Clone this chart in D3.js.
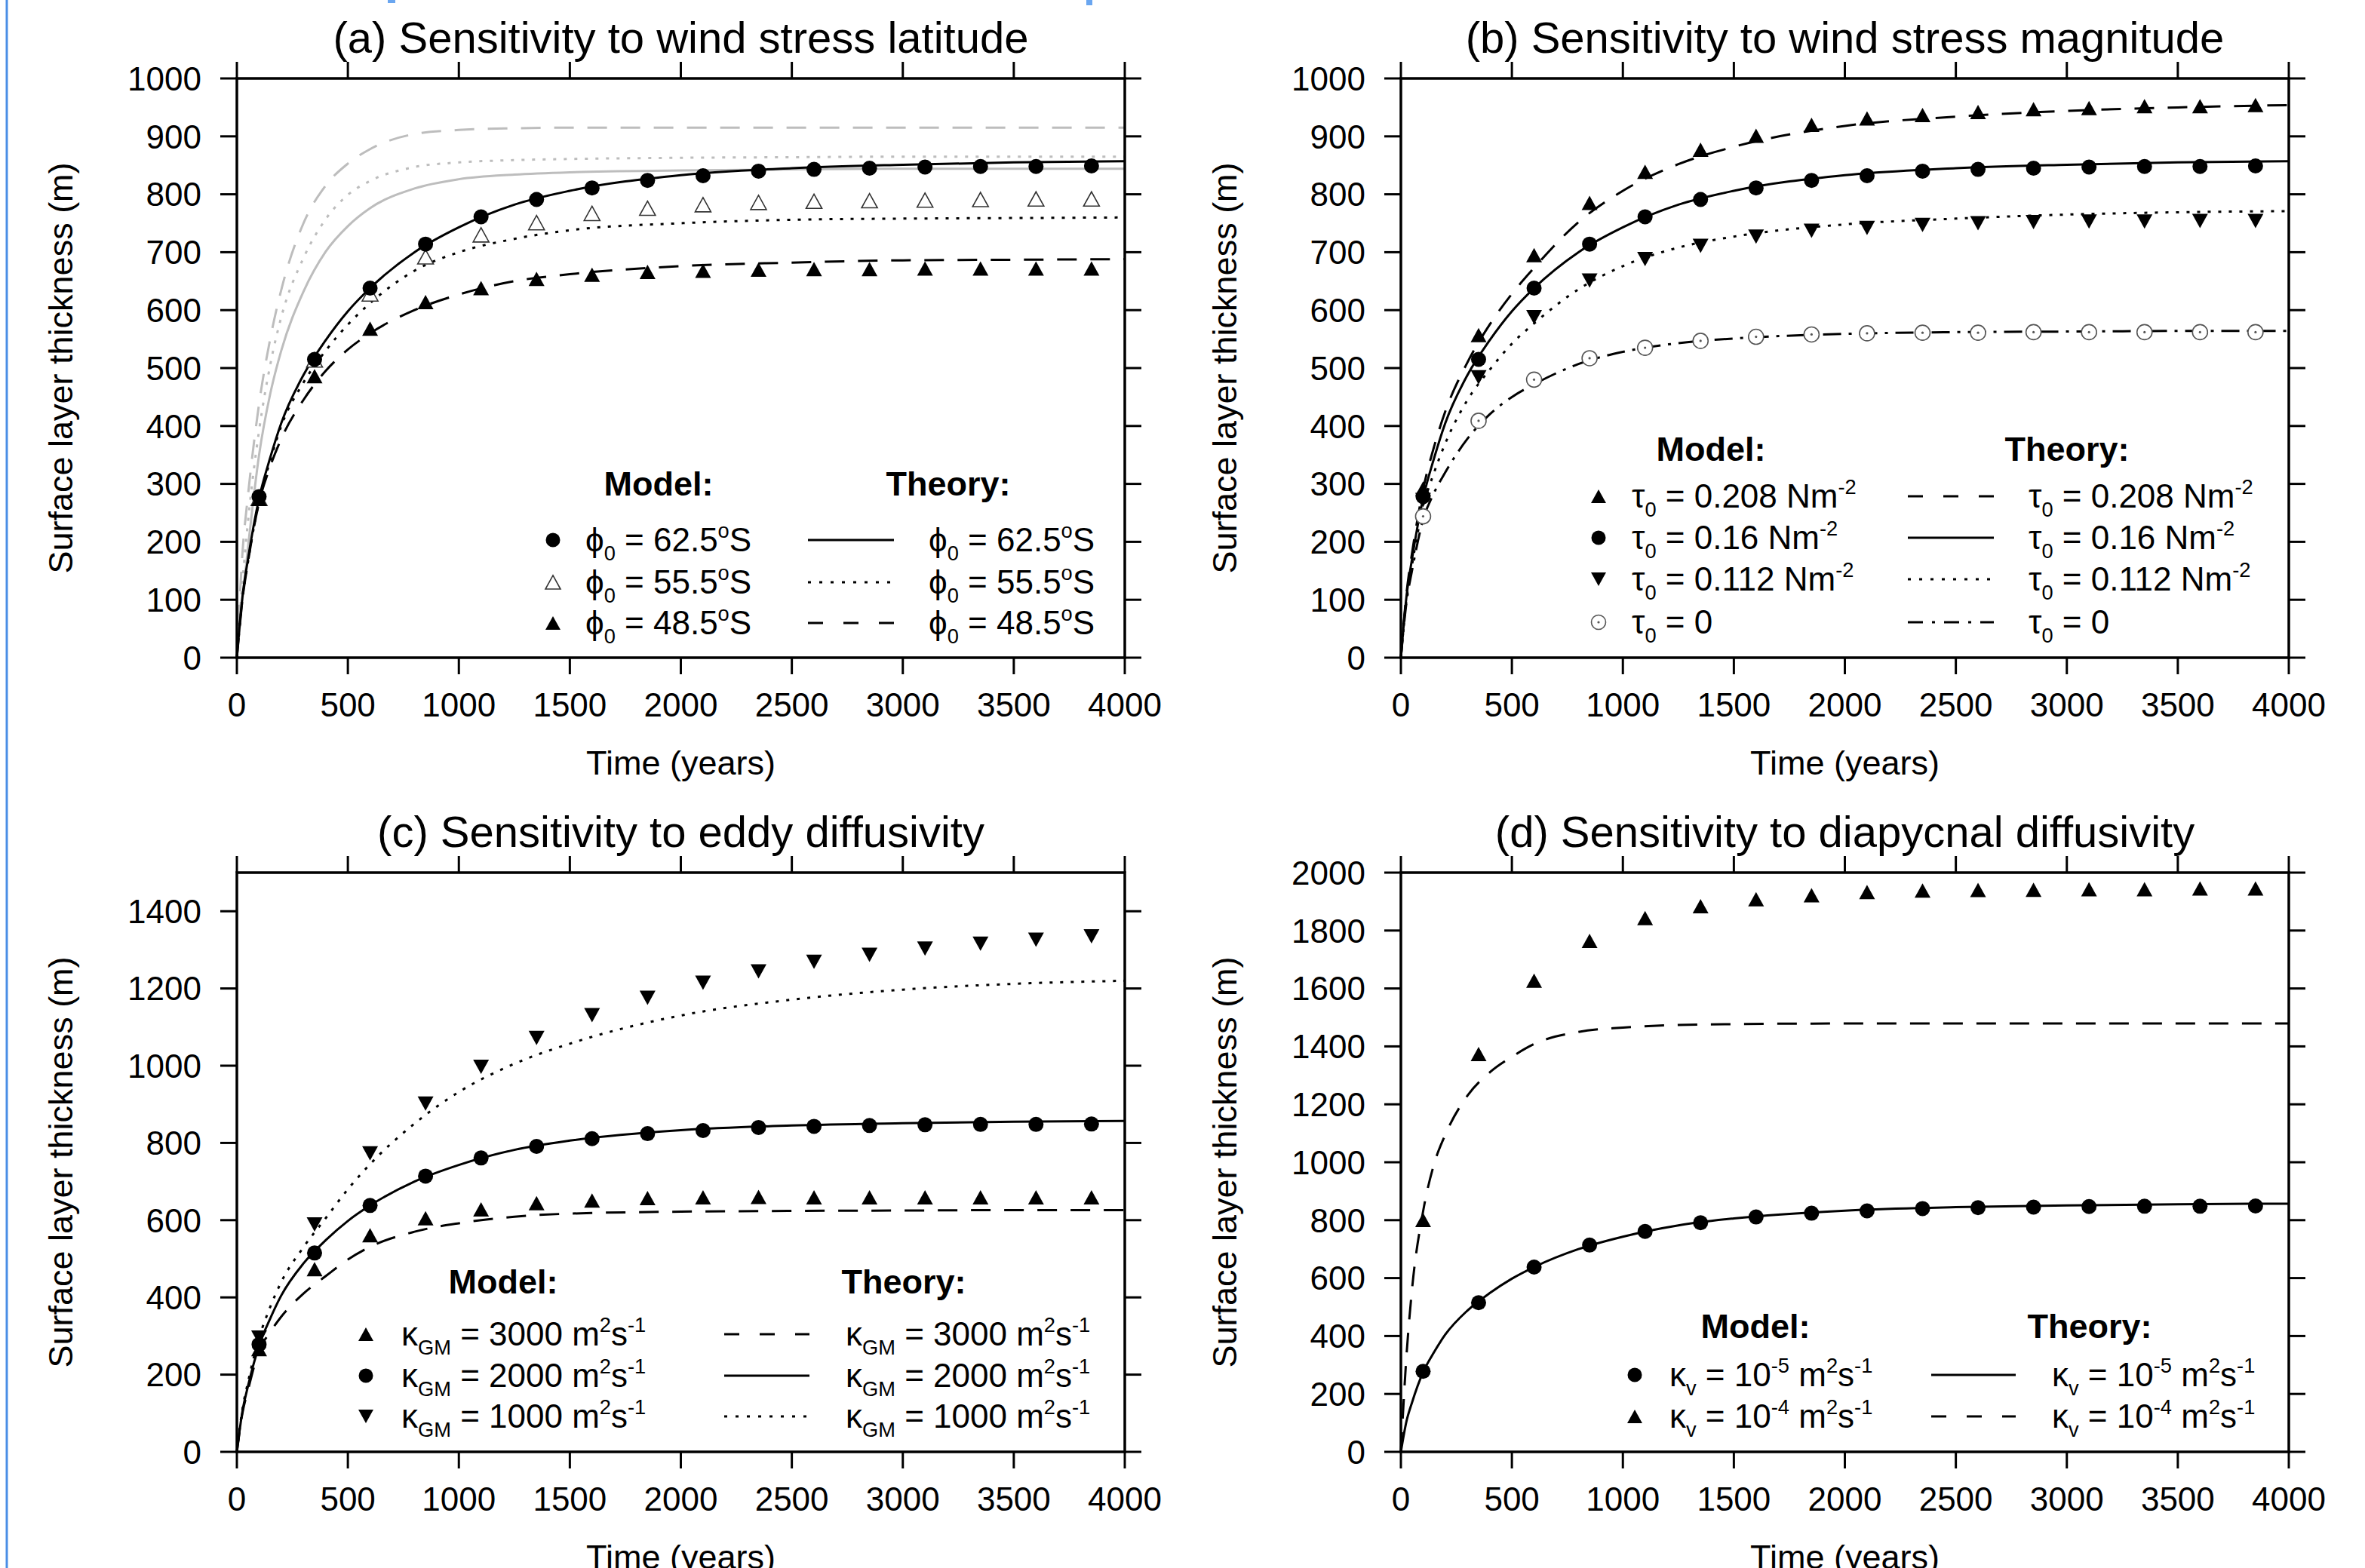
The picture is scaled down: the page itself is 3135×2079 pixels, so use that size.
<!DOCTYPE html>
<html>
<head>
<meta charset="utf-8">
<script src="https://cdn.jsdelivr.net/npm/d3@7"></script>
<style>
  body { margin: 0; background: #fff; }
  svg { display: block; font-family: "Liberation Sans", Arial, Helvetica, sans-serif; }
</style>
</head>
<body>
<script>
var WIDTH = 3135;
var HEIGHT = 2079;

// ---- data ----
var modelTime = [100, 350, 600, 850, 1100, 1350, 1600, 1850, 2100, 2350, 2600, 2850, 3100, 3350, 3600, 3850];
var theoryTime = [0, 25, 50, 100, 150, 200, 300, 400, 500, 600, 800, 1000, 1250, 1500, 2000, 2500, 3000, 3500, 4000];

// control run (phi0 = 62.5S, tau0 = 0.16, kGM = 2000, kv = 1e-5)
var modelControl  = [278, 515, 638, 714, 761, 791, 811, 824, 832, 840, 843, 845, 847, 848, 848, 849];
var theoryControl = [0, 105, 170, 275, 345, 405, 488, 548, 598, 638, 700, 743, 782, 806, 833, 845, 851, 855, 857];

// (a) wind stress latitude
var modelLat555 = [275, 514, 628, 692, 730, 751, 767, 776, 782, 786, 788, 789, 790, 791, 792, 792];
var modelLat485 = [274, 486, 568, 614, 638, 654, 661, 666, 668, 670, 671, 671, 672, 672, 672, 672];
var theoryLat555 = [0, 100, 165, 270, 340, 400, 475, 530, 575, 612, 668, 700, 723, 738, 750, 756, 758, 759, 760];
var theoryLat485 = [0, 100, 165, 268, 330, 378, 445, 495, 532, 560, 600, 627, 650, 662, 676, 682, 686, 687, 688];
var grayLat625 = [0, 100, 190, 350, 455, 530, 632, 701, 745, 776, 810, 826, 834, 838, 841, 843, 844, 844, 844];
var grayLat555 = [0, 130, 235, 392, 505, 588, 690, 757, 799, 823, 847, 855, 859, 861, 863, 864, 865, 865, 865];
var grayLat485 = [0, 180, 280, 438, 550, 635, 750, 815, 853, 878, 904, 911, 914, 915, 915, 915, 915, 915, 915];

// (b) wind stress magnitude
var modelTau208 = [292, 557, 695, 785, 839, 877, 901, 920, 931, 937, 942, 947, 949, 952, 952, 954];
var modelTau112 = [272, 484, 588, 651, 688, 711, 727, 737, 742, 747, 750, 752, 753, 753, 754, 754];
var modelTau0   = [244, 409, 480, 517, 535, 547, 554, 558, 560, 561, 561, 562, 562, 562, 562, 562];
var theoryTau208 = [0, 110, 180, 290, 365, 425, 510, 575, 628, 673, 752, 806, 852, 882, 918, 934, 944, 950, 954];
var theoryTau112 = [0, 100, 160, 260, 320, 370, 445, 497, 542, 577, 636, 676, 708, 727, 748, 758, 765, 769, 771];
var theoryTau0   = [0, 95, 150, 238, 285, 320, 378, 420, 450, 472, 507, 528, 543, 551, 559, 562, 563, 564, 564];

// (c) eddy diffusivity
var modelGM3000 = [266, 473, 561, 605, 628, 644, 651, 657, 659, 660, 659, 659, 659, 659, 659, 659];
var modelGM1000 = [296, 589, 773, 902, 997, 1072, 1131, 1176, 1215, 1244, 1269, 1287, 1303, 1316, 1326, 1335];
var theoryGM3000 = [0, 100, 160, 262, 310, 350, 410, 455, 498, 531, 570, 592, 609, 617, 622, 624, 625, 626, 626];
var theoryGM1000 = [0, 110, 180, 295, 375, 440, 530, 605, 680, 745, 850, 932, 1005, 1057, 1130, 1171, 1197, 1212, 1220];

// (d) diapycnal diffusivity
var modelKv4 = [801, 1374, 1627, 1764, 1843, 1884, 1908, 1922, 1933, 1938, 1940, 1941, 1943, 1943, 1945, 1945];
var theoryKv4 = [0, 330, 560, 830, 995, 1095, 1230, 1310, 1364, 1408, 1450, 1465, 1474, 1477, 1479, 1479, 1479, 1479, 1479];

// labels
var titles = ["(a) Sensitivity to wind stress latitude", "(b) Sensitivity to wind stress magnitude",
              "(c) Sensitivity to eddy diffusivity", "(d) Sensitivity to diapycnal diffusivity"];
var latLabels = ["ϕ_{0} = 62.5^{o}S", "ϕ_{0} = 55.5^{o}S", "ϕ_{0} = 48.5^{o}S"];
var tauLabels = ["τ_{0} = 0.208 Nm^{-2}", "τ_{0} = 0.16 Nm^{-2}", "τ_{0} = 0.112 Nm^{-2}", "τ_{0} = 0"];
var gmLabels = ["κ_{GM} = 3000 m^{2}s^{-1}", "κ_{GM} = 2000 m^{2}s^{-1}", "κ_{GM} = 1000 m^{2}s^{-1}"];
var kvLabels = ["κ_{v} = 10^{-5} m^{2}s^{-1}", "κ_{v} = 10^{-4} m^{2}s^{-1}"];
var xTicks = [0, 500, 1000, 1500, 2000, 2500, 3000, 3500, 4000];

// ---- styles ----
var DASH = { solid: null, dotted: "4,10", dashed: "26,18", dashdot: "24,10,4,10" };
// legend keys use a shorter pattern, like the original
var LEGEND_DASH = { solid: null, dotted: "4,11", dashed: "20,27", dashdot: "20,12,4,12" };
var GRAY = "#bdbdbd";

var canvas = d3.select("body").append("svg")
    .attr("width", WIDTH)
    .attr("height", HEIGHT);

canvas.append("rect").attr("width", WIDTH).attr("height", HEIGHT).attr("fill", "white");

// blue page border remnants
canvas.append("line").attr("x1", 9).attr("x2", 9).attr("y1", 0).attr("y2", HEIGHT)
    .attr("stroke", "#4a8ee6").attr("stroke-width", 3);
canvas.append("rect").attr("x", 514).attr("y", 0).attr("width", 10).attr("height", 4).attr("fill", "#6aa6f0");
canvas.append("rect").attr("x", 1440).attr("y", 0).attr("width", 8).attr("height", 7).attr("fill", "#6aa6f0");

/* write "a_{b} c^{d}" style strings as tspans */
function richText(textSel, str, size) {
    var parts = str.split(/(_\{[^}]*\}|\^\{[^}]*\})/).filter(function(p) { return p.length; });
    var shift = 0;
    parts.forEach(function(p) {
        var mode = p[0] === "_" ? "sub" : (p[0] === "^" ? "sup" : "");
        var s = mode ? p.slice(2, -1) : p;
        var target = mode === "sub" ? 0.28 * size : (mode === "sup" ? -0.42 * size : 0);
        textSel.append("tspan")
            .attr("dy", target - shift)
            .attr("font-size", mode ? size * 0.62 : size)
            .text(s);
        shift = target;
    });
}

function drawMarker(g, kind, x, y, k) {
    k = k || 1;
    var w = 21 * k, h = 19 * k;
    if (kind === "circle") {
        g.append("circle").attr("cx", x).attr("cy", y).attr("r", 10 * k).attr("fill", "black");
    } else if (kind === "ocircle") {
        g.append("circle").attr("cx", x).attr("cy", y).attr("r", 10 * k)
            .attr("fill", "white").attr("stroke", "#555").attr("stroke-width", 1.6);
        g.append("circle").attr("cx", x).attr("cy", y).attr("r", 1.6).attr("fill", "#555");
    } else if (kind === "tri" || kind === "otri") {
        g.append("path")
            .attr("d", "M" + x + "," + (y - h / 2) + "L" + (x + w / 2) + "," + (y + h / 2) + "L" + (x - w / 2) + "," + (y + h / 2) + "Z")
            .attr("fill", kind === "tri" ? "black" : "white")
            .attr("stroke", kind === "tri" ? "none" : "#333")
            .attr("stroke-width", 1.6);
    } else if (kind === "dtri") {
        g.append("path")
            .attr("d", "M" + x + "," + (y + h / 2) + "L" + (x + w / 2) + "," + (y - h / 2) + "L" + (x - w / 2) + "," + (y - h / 2) + "Z")
            .attr("fill", "black");
    }
}

function drawPanel(p) {
    var g = canvas.append("g");
    var x = d3.scaleLinear().domain([0, 4000]).range([p.x0, p.x1]);
    var y = d3.scaleLinear().domain([0, p.yMax]).range([p.yBot, p.yTop]);
    var yTicks = d3.range(0, p.yTickMax + 1, p.yStep);
    var TL = 22;

    // theory curves
    var line = d3.line()
        .x(function(d, i) { return x(theoryTime[i]); })
        .y(function(d) { return y(d); })
        .curve(d3.curveMonotoneX);
    p.theory.forEach(function(t) {
        g.append("path")
            .attr("d", line(t.values))
            .attr("fill", "none")
            .attr("stroke", t.color || "black")
            .attr("stroke-width", 3)
            .attr("stroke-dasharray", DASH[t.dash]);
    });

    // model markers
    p.model.forEach(function(m) {
        m.values.forEach(function(v, i) {
            drawMarker(g, m.marker, x(modelTime[i]), y(v));
        });
    });

    // frame
    g.append("rect")
        .attr("x", p.x0).attr("y", p.yTop)
        .attr("width", p.x1 - p.x0).attr("height", p.yBot - p.yTop)
        .attr("fill", "none").attr("stroke", "black").attr("stroke-width", 3.5);

    // ticks (outward on all four sides)
    xTicks.forEach(function(t) {
        g.append("line").attr("x1", x(t)).attr("x2", x(t)).attr("y1", p.yBot).attr("y2", p.yBot + TL)
            .attr("stroke", "black").attr("stroke-width", 3);
        g.append("line").attr("x1", x(t)).attr("x2", x(t)).attr("y1", p.yTop).attr("y2", p.yTop - TL)
            .attr("stroke", "black").attr("stroke-width", 3);
        g.append("text").attr("x", x(t)).attr("y", p.yBot + 78)
            .attr("text-anchor", "middle").attr("font-size", 44).text(t);
    });
    yTicks.forEach(function(t) {
        g.append("line").attr("x1", p.x0).attr("x2", p.x0 - TL).attr("y1", y(t)).attr("y2", y(t))
            .attr("stroke", "black").attr("stroke-width", 3);
        g.append("line").attr("x1", p.x1).attr("x2", p.x1 + TL).attr("y1", y(t)).attr("y2", y(t))
            .attr("stroke", "black").attr("stroke-width", 3);
        g.append("text").attr("x", p.x0 - 47).attr("y", y(t)).attr("dy", "0.36em")
            .attr("text-anchor", "end").attr("font-size", 44).text(t);
    });

    // titles
    var cx = (p.x0 + p.x1) / 2;
    g.append("text").attr("x", cx).attr("y", p.yTop - 34)
        .attr("text-anchor", "middle").attr("font-size", 58).text(p.title);
    g.append("text").attr("x", cx).attr("y", p.yBot + 155)
        .attr("text-anchor", "middle").attr("font-size", 45).text("Time (years)");
    g.append("text")
        .attr("transform", "translate(" + (p.x0 - 218) + "," + ((p.yTop + p.yBot) / 2) + ") rotate(-90)")
        .attr("text-anchor", "middle").attr("font-size", 45).text("Surface layer thickness (m)");

    // legend
    var L = p.legend;
    g.append("text").attr("x", L.modelX).attr("y", L.headY).attr("text-anchor", "middle")
        .attr("font-size", 45).attr("font-weight", "bold").text("Model:");
    g.append("text").attr("x", L.theoryX).attr("y", L.headY).attr("text-anchor", "middle")
        .attr("font-size", 45).attr("font-weight", "bold").text("Theory:");
    L.rows.forEach(function(r, i) {
        var ry = L.rowY[i];
        drawMarker(g, r.marker, L.markerX, ry, 0.95);
        richText(g.append("text").attr("x", L.textX).attr("y", ry + 15), r.label, 44);
        g.append("line").attr("x1", L.lineX0).attr("x2", L.lineX1).attr("y1", ry).attr("y2", ry)
            .attr("stroke", "black").attr("stroke-width", 3).attr("stroke-dasharray", LEGEND_DASH[r.dash]);
        richText(g.append("text").attr("x", L.theoryTextX).attr("y", ry + 15), r.label, 44);
    });
}

drawPanel({
    title: titles[0], x0: 314, x1: 1491, yTop: 104, yBot: 872, yMax: 1000, yTickMax: 1000, yStep: 100,
    theory: [
        { values: grayLat625, dash: "solid", color: GRAY },
        { values: grayLat555, dash: "dotted", color: GRAY },
        { values: grayLat485, dash: "dashed", color: GRAY },
        { values: theoryControl, dash: "solid" },
        { values: theoryLat555, dash: "dotted" },
        { values: theoryLat485, dash: "dashed" }
    ],
    model: [
        { values: modelLat555, marker: "otri" },
        { values: modelLat485, marker: "tri" },
        { values: modelControl, marker: "circle" }
    ],
    legend: {
        modelX: 873, theoryX: 1257, headY: 657, rowY: [716, 772, 826],
        markerX: 733, textX: 776, lineX0: 1071, lineX1: 1185, theoryTextX: 1231,
        rows: [
            { marker: "circle", label: latLabels[0], dash: "solid" },
            { marker: "otri", label: latLabels[1], dash: "dotted" },
            { marker: "tri", label: latLabels[2], dash: "dashed" }
        ]
    }
});

drawPanel({
    title: titles[1], x0: 1857, x1: 3034, yTop: 104, yBot: 872, yMax: 1000, yTickMax: 1000, yStep: 100,
    theory: [
        { values: theoryTau208, dash: "dashed" },
        { values: theoryControl, dash: "solid" },
        { values: theoryTau112, dash: "dotted" },
        { values: theoryTau0, dash: "dashdot" }
    ],
    model: [
        { values: modelTau0, marker: "ocircle" },
        { values: modelTau112, marker: "dtri" },
        { values: modelControl, marker: "circle" },
        { values: modelTau208, marker: "tri" }
    ],
    legend: {
        modelX: 2268, theoryX: 2740, headY: 611, rowY: [658, 713, 768, 825],
        markerX: 2119, textX: 2163, lineX0: 2529, lineX1: 2643, theoryTextX: 2689,
        rows: [
            { marker: "tri", label: tauLabels[0], dash: "dashed" },
            { marker: "circle", label: tauLabels[1], dash: "solid" },
            { marker: "dtri", label: tauLabels[2], dash: "dotted" },
            { marker: "ocircle", label: tauLabels[3], dash: "dashdot" }
        ]
    }
});

drawPanel({
    title: titles[2], x0: 314, x1: 1491, yTop: 1157, yBot: 1925, yMax: 1500, yTickMax: 1400, yStep: 200,
    theory: [
        { values: theoryGM3000, dash: "dashed" },
        { values: theoryControl, dash: "solid" },
        { values: theoryGM1000, dash: "dotted" }
    ],
    model: [
        { values: modelGM3000, marker: "tri" },
        { values: modelControl, marker: "circle" },
        { values: modelGM1000, marker: "dtri" }
    ],
    legend: {
        modelX: 667, theoryX: 1198, headY: 1715, rowY: [1769, 1824, 1878],
        markerX: 485, textX: 532, lineX0: 960, lineX1: 1073, theoryTextX: 1121,
        rows: [
            { marker: "tri", label: gmLabels[0], dash: "dashed" },
            { marker: "circle", label: gmLabels[1], dash: "solid" },
            { marker: "dtri", label: gmLabels[2], dash: "dotted" }
        ]
    }
});

drawPanel({
    title: titles[3], x0: 1857, x1: 3034, yTop: 1157, yBot: 1925, yMax: 2000, yTickMax: 2000, yStep: 200,
    theory: [
        { values: theoryControl, dash: "solid" },
        { values: theoryKv4, dash: "dashed" }
    ],
    model: [
        { values: modelControl, marker: "circle" },
        { values: modelKv4, marker: "tri" }
    ],
    legend: {
        modelX: 2327, theoryX: 2770, headY: 1774, rowY: [1823, 1878],
        markerX: 2167, textX: 2213, lineX0: 2560, lineX1: 2672, theoryTextX: 2720,
        rows: [
            { marker: "circle", label: kvLabels[0], dash: "solid" },
            { marker: "tri", label: kvLabels[1], dash: "dashed" }
        ]
    }
});
</script>
</body>
</html>
